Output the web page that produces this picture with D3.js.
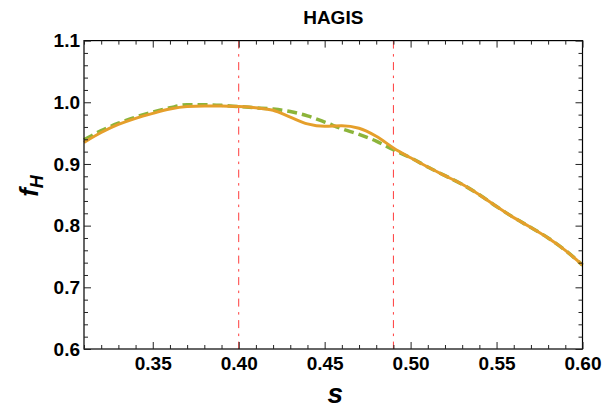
<!DOCTYPE html>
<html>
<head>
<meta charset="utf-8">
<script src="https://cdn.jsdelivr.net/npm/d3@7"></script>
<style>
  html, body { margin: 0; padding: 0; background: #fff; }
  svg { display: block; }
  text { font-family: "Liberation Sans", Arial, Helvetica, sans-serif; }
</style>
</head>
<body>
<svg id="chart" width="604" height="411"></svg>
<script>
// s grid shared by both curves
const sValues = [0.31, 0.32, 0.33, 0.34, 0.35, 0.36, 0.37, 0.38, 0.39, 0.40,
                 0.41, 0.42, 0.43, 0.44, 0.45, 0.46, 0.47, 0.48, 0.49, 0.50,
                 0.51, 0.52, 0.53, 0.54, 0.55, 0.56, 0.57, 0.58, 0.59, 0.60];
// solid curve
const fSolid = [0.935, 0.951, 0.964, 0.974, 0.982, 0.989, 0.993, 0.994, 0.994, 0.993,
                0.991, 0.987, 0.976, 0.965, 0.961, 0.962, 0.958, 0.945, 0.926, 0.910,
                0.895, 0.881, 0.867, 0.850, 0.831, 0.813, 0.797, 0.780, 0.760, 0.736];
// dashed curve
const fDashed = [0.939, 0.954, 0.966, 0.976, 0.984, 0.991, 0.996, 0.996, 0.995, 0.993,
                 0.991, 0.989, 0.985, 0.978, 0.968, 0.957, 0.948, 0.937, 0.923, 0.910,
                 0.895, 0.881, 0.867, 0.850, 0.831, 0.813, 0.797, 0.780, 0.760, 0.736];
// vertical marker positions
const markers = [0.40, 0.49];
// axis ticks
const xMajor = [0.35, 0.40, 0.45, 0.50, 0.55, 0.60];
const xMinor = [0.31, 0.32, 0.33, 0.34, 0.36, 0.37, 0.38, 0.39, 0.41, 0.42, 0.43, 0.44,
                0.46, 0.47, 0.48, 0.49, 0.51, 0.52, 0.53, 0.54, 0.56, 0.57, 0.58, 0.59];
const yMajor = [0.6, 0.7, 0.8, 0.9, 1.0, 1.1];
const yMinor = [0.62, 0.64, 0.66, 0.68, 0.72, 0.74, 0.76, 0.78, 0.82, 0.84, 0.86, 0.88,
                0.92, 0.94, 0.96, 0.98, 1.02, 1.04, 1.06, 1.08];
const title = "HAGIS";

const svg = d3.select("#chart");
const L = 84, R = 582.5, T = 40.6, B = 349;

const x = d3.scaleLinear().domain([0.31, 0.60]).range([L, R]);
const y = d3.scaleLinear().domain([0.6, 1.1]).range([B, T]);

// marker lines (dash-dot)
svg.append("g").selectAll("line").data(markers).join("line")
  .attr("x1", d => x(d)).attr("x2", d => x(d))
  .attr("y1", T).attr("y2", B)
  .attr("stroke", "#ff3b3b").attr("stroke-width", 1)
  .attr("stroke-dasharray", "8,5.5,2.5,5.5");

const line = d3.line().curve(d3.curveMonotoneX);

const dashedPts = sValues.map((s, i) => [x(s), y(fDashed[i])]);
const solidPts = sValues.map((s, i) => [x(s), y(fSolid[i])]);

svg.append("path").attr("d", line(dashedPts))
  .attr("fill", "none").attr("stroke", "#8cb43a").attr("stroke-width", 3.5)
  .attr("stroke-dasharray", "10,5");
svg.append("path").attr("d", line(solidPts))
  .attr("fill", "none").attr("stroke", "#e59f2b").attr("stroke-width", 3);

// frame
svg.append("rect").attr("x", L).attr("y", T).attr("width", R - L).attr("height", B - T)
  .attr("fill", "none").attr("stroke", "#000").attr("stroke-width", 1.2);

function styleAxis(g) {
  g.select(".domain").remove();
  g.selectAll(".tick line").attr("stroke", "#222").attr("stroke-width", 1);
}

const fmt2 = d3.format(".2f"), fmt1 = d3.format(".1f");
const labelFont = g => g.selectAll("text")
  .attr("font-size", 19).attr("font-weight", "bold").attr("fill", "#000")
  .attr("font-family", "'Liberation Sans', Arial, sans-serif");

// bottom
svg.append("g").attr("transform", `translate(0,${B})`)
  .call(d3.axisBottom(x).tickValues(xMajor).tickSize(-7).tickPadding(8).tickFormat(fmt2))
  .call(styleAxis).call(labelFont);
svg.append("g").attr("transform", `translate(0,${B})`)
  .call(d3.axisBottom(x).tickValues(xMinor).tickSize(-4).tickFormat(""))
  .call(styleAxis);
// top
svg.append("g").attr("transform", `translate(0,${T})`)
  .call(d3.axisTop(x).tickValues(xMajor).tickSize(-7).tickFormat(""))
  .call(styleAxis);
svg.append("g").attr("transform", `translate(0,${T})`)
  .call(d3.axisTop(x).tickValues(xMinor).tickSize(-4).tickFormat(""))
  .call(styleAxis);
// left
svg.append("g").attr("transform", `translate(${L},0)`)
  .call(d3.axisLeft(y).tickValues(yMajor).tickSize(-7).tickPadding(4).tickFormat(fmt1))
  .call(styleAxis).call(labelFont);
svg.append("g").attr("transform", `translate(${L},0)`)
  .call(d3.axisLeft(y).tickValues(yMinor).tickSize(-4).tickFormat(""))
  .call(styleAxis);
// right
svg.append("g").attr("transform", `translate(${R},0)`)
  .call(d3.axisRight(y).tickValues(yMajor).tickSize(-7).tickFormat(""))
  .call(styleAxis);
svg.append("g").attr("transform", `translate(${R},0)`)
  .call(d3.axisRight(y).tickValues(yMinor).tickSize(-4).tickFormat(""))
  .call(styleAxis);

// title
svg.append("text").attr("x", (L + R) / 2).attr("y", 24)
  .attr("text-anchor", "middle").attr("font-size", 19).attr("font-weight", "bold")
  .text(title);

// axis labels
svg.append("text").attr("x", (L + R) / 2 + 2).attr("y", 403)
  .attr("text-anchor", "middle").attr("font-size", 28).attr("font-weight", "bold")
  .attr("font-style", "italic").text("s");

const yl = svg.append("text")
  .attr("transform", "translate(38,186) rotate(-90)")
  .attr("text-anchor", "middle").attr("font-weight", "bold").attr("font-style", "italic");
yl.append("tspan").attr("font-size", 26).text("f");
yl.append("tspan").attr("font-size", 18).attr("dy", 5).text("H");
</script>
</body>
</html>
